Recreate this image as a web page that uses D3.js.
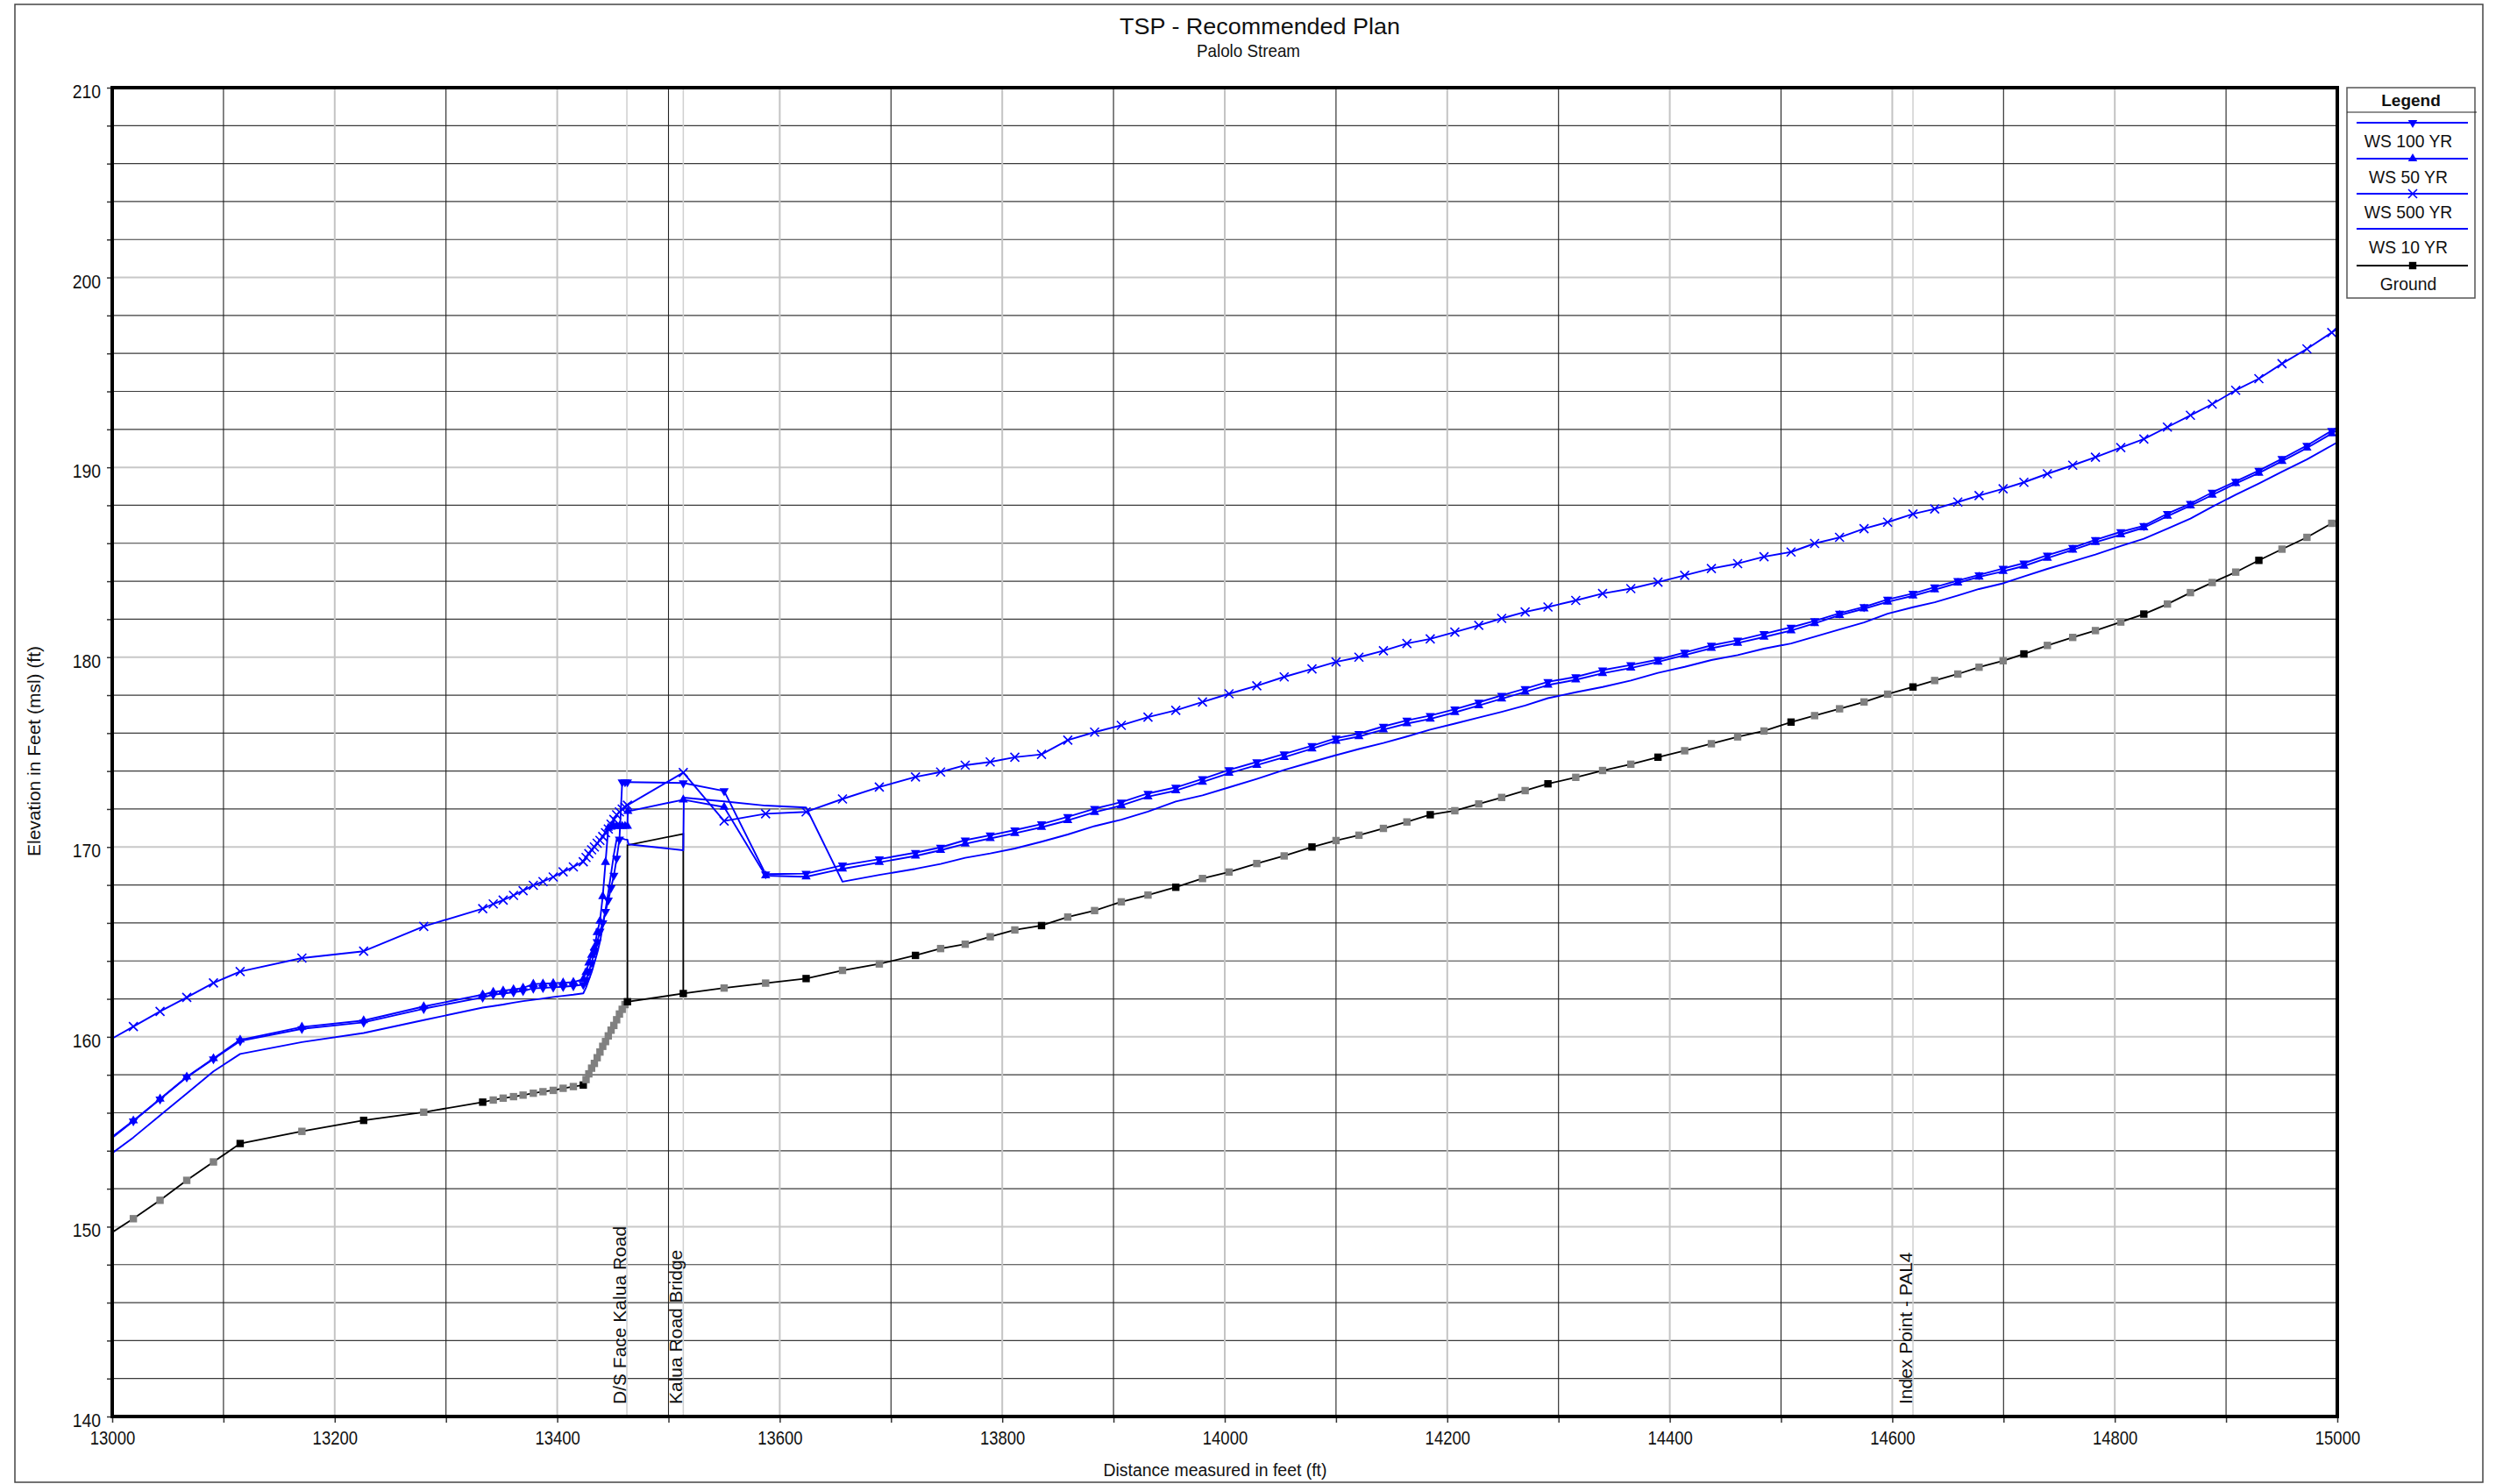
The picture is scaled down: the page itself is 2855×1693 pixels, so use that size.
<!DOCTYPE html>
<html><head><meta charset="utf-8">
<script src="https://cdn.jsdelivr.net/npm/d3@7"></script>
<style>html,body{margin:0;padding:0;background:#fff;} svg{display:block;font-family:Arial,"Liberation Sans",sans-serif;}</style>
</head><body><svg id="c" width="2855" height="1693"></svg>
<script>
// ---------------- DATA ----------------
const stations = [12996,13019,13043,13067,13091,13115,13170.5,13226,13280,13333,13342.5,13351.4,13360.7,13369.3,13378.5,13387.2,13396.4,13405.3,13414.5,13423.4,
13425.9,13428.4,13430.9,13433.4,13435.9,13438.4,13440.9,13443.4,13445.9,13448.4,13450.9,13453.4,13455.9,13458.4,13460.9,
13463.1,13513.3,13550,13587.3,13623.7,13656.4,13689.5,13722,13744.6,13766.7,13789.2,13811.3,13835.3,13858.9,13883,13907,13931,13956,13980,14003.8,14028.8,14053.4,14078.4,14100,14120.6,14142.6,14163.7,14184.7,14206.8,14228.3,14248.9,14270,14290.5,14315.5,14339.6,14365,14389.4,14413.4,14437.4,14461,14484.7,14509,14530.2,14552.6,14574.6,14595.8,14618.6,14638.1,14658.9,14678,14699.6,14718.3,14739.4,14762.2,14782.6,14805.4,14826.1,14847.3,14868,14887.6,14908.7,14929.5,14950.3,14972.7,14995,15004];

const ground = [149.55,150.42,151.39,152.44,153.41,154.38,155.02,155.60,156.03,156.56,156.67,156.77,156.85,156.93,157.03,157.11,157.18,157.29,157.38,157.46,
157.75,158.05,158.35,158.6,158.9,159.2,159.5,159.75,160.05,160.35,160.6,160.9,161.2,161.45,161.7,
161.85,162.28,162.57,162.83,163.07,163.5,163.84,164.29,164.65,164.88,165.27,165.63,165.86,166.31,166.65,167.11,167.47,167.88,168.34,168.68,169.13,169.53,170.0,170.34,170.62,170.98,171.32,171.70,171.91,172.27,172.61,172.97,173.33,173.67,174.03,174.36,174.73,175.07,175.44,175.80,176.11,176.58,176.92,177.28,177.64,178.05,178.43,178.77,179.11,179.47,179.81,180.17,180.62,181.04,181.40,181.85,182.27,182.80,183.40,183.93,184.48,185.10,185.69,186.31,187.05,187.35];

const ws500 = [159.78,160.54,161.34,162.08,162.84,163.44,164.15,164.51,165.82,166.75,167.0,167.2,167.45,167.7,167.98,168.18,168.42,168.69,168.95,169.22,
169.45,169.65,169.85,170.0,170.2,170.35,170.55,170.75,170.95,171.2,171.45,171.7,171.85,172.0,172.1,
172.2,173.92,171.37,171.75,171.85,172.53,173.16,173.69,173.95,174.31,174.48,174.73,174.88,175.63,176.05,176.41,176.84,177.20,177.64,178.07,178.49,178.96,179.38,179.75,180.0,180.34,180.72,180.96,181.32,181.68,182.04,182.38,182.64,182.99,183.35,183.61,183.95,184.31,184.67,184.93,185.29,185.54,185.99,186.31,186.77,187.11,187.54,187.81,188.17,188.51,188.87,189.21,189.66,190.11,190.53,191.04,191.49,192.12,192.74,193.33,194.06,194.67,195.46,196.24,197.1,197.45];

const ws100 = [154.5,155.56,156.71,157.87,158.83,159.78,160.42,160.76,161.48,162.08,162.22,162.28,162.35,162.42,162.55,162.58,162.61,162.64,162.68,162.75,
163.0,163.45,163.9,164.45,165.0,165.55,166.0,166.6,167.2,167.85,168.5,169.4,170.4,173.42,173.42,
173.42,173.37,172.95,168.57,168.60,169.04,169.36,169.70,169.98,170.36,170.62,170.89,171.21,171.59,172.02,172.36,172.82,173.14,173.59,174.06,174.48,174.90,175.33,175.73,175.97,176.35,176.67,176.92,177.26,177.62,177.98,178.34,178.70,178.96,179.32,179.59,179.87,180.25,180.62,180.89,181.23,181.57,181.91,182.31,182.65,183.04,183.35,183.69,184.03,184.33,184.67,184.95,185.37,185.77,186.18,186.60,186.92,187.56,188.09,188.68,189.26,189.83,190.45,191.15,191.93,192.25];

const ws50 = [154.55,155.58,156.73,157.89,158.86,159.84,160.52,160.86,161.6,162.22,162.36,162.43,162.5,162.57,162.78,162.8,162.82,162.85,162.88,163.03,
163.4,163.9,164.3,164.7,165.5,166.1,167.4,169.2,171.0,171.05,171.1,171.1,171.1,171.1,171.1,
171.1,172.49,172.1,168.49,168.43,168.85,169.19,169.53,169.83,170.17,170.45,170.72,171.04,171.40,171.83,172.19,172.65,172.97,173.42,173.89,174.31,174.73,175.18,175.58,175.82,176.18,176.50,176.75,177.09,177.45,177.81,178.17,178.53,178.81,179.15,179.43,179.75,180.11,180.47,180.74,181.06,181.40,181.78,182.21,182.55,182.91,183.23,183.55,183.91,184.23,184.52,184.80,185.22,185.65,186.05,186.45,186.82,187.43,187.98,188.54,189.15,189.70,190.32,191.02,191.78,192.1];

const ws10 = [153.7,154.7,155.86,157.02,158.18,159.1,159.72,160.2,160.88,161.54,161.62,161.7,161.8,161.88,161.95,162.02,162.1,162.16,162.22,162.29,
162.6,163.0,163.4,163.9,164.4,165.0,165.8,166.7,167.6,168.6,169.6,170.4,170.45,170.45,170.4,
170.38,169.83,172.4,172.18,172.08,168.17,168.53,168.85,169.11,169.43,169.66,169.92,170.28,170.66,171.10,171.44,171.87,172.40,172.72,173.14,173.59,174.06,174.48,174.84,175.16,175.48,175.82,176.18,176.50,176.82,177.12,177.45,177.84,178.15,178.43,178.77,179.17,179.49,179.85,180.11,180.45,180.72,181.08,181.46,181.83,182.29,182.63,182.89,183.25,183.59,183.89,184.25,184.65,185.05,185.41,185.86,186.24,186.77,187.30,187.92,188.56,189.15,189.77,190.42,191.15,191.45];

// extra points inside the bridge  [station, elevation]
const ws10Bridge = [[13464, 170.14], [13513.8, 172.6]];
const ws50Bridge = [[13463.5, 171.88]];
const bridgeDeck = [[13463.1,161.85],[13463.1,170.1],[13513.3,170.69],[13513.3,162.28]];

// surveyed cross sections (black squares); others are interpolated (grey)
const surveyed = [13115,13226,13333,13423.4,13463.1,13513.3,13623.7,13722,13835.3,13956,14078.4,14184.7,14290.5,14389.4,14509,14618.6,14718.3,14826.1,14929.5];

const stationLabels = [
  {st: 13462.6, text: "D/S Face Kalua  Road"},
  {st: 13513.3, text: "Kalua Road Bridge"},
  {st: 14618.6, text: "Index Point - PAL4"}
];
const xTickValues = d3.range(13000, 15001, 100);
const yTickValues = d3.range(140, 211, 2);
const legendNames = ["WS  100 YR", "WS  50 YR", "WS  500 YR", "WS  10 YR", "Ground"];

// ---------------- CHART ----------------
const W = 2855, H = 1693;
const M = {left: 128, right: 2666, top: 100, bottom: 1616};
const BLUE = "#0000ff";
const svg = d3.select("#c");
svg.append("rect").attr("width", W).attr("height", H).attr("fill", "#fff");
svg.append("rect").attr("x", 17).attr("y", 5).attr("width", 2832 - 17).attr("height", 1691 - 5)
  .attr("fill", "none").attr("stroke", "#444").attr("stroke-width", 1.5);

const x = d3.scaleLinear().domain([13000, 15000]).range([M.left, M.right]);
const y = d3.scaleLinear().domain([140, 210]).range([M.bottom, M.top]);

function condense(sel, f) {
  sel.each(function () {
    const n = this.getComputedTextLength();
    if (n > 0) { this.setAttribute("textLength", n * f); this.setAttribute("lengthAdjust", "spacingAndGlyphs"); }
  });
}

svg.append("clipPath").attr("id", "clip").append("rect")
  .attr("x", M.left).attr("y", M.top).attr("width", M.right - M.left).attr("height", M.bottom - M.top);

// grid
const grid = svg.append("g");
grid.selectAll("line.h").data(yTickValues.filter(v => v > 140 && v < 210)).join("line")
  .attr("x1", M.left).attr("x2", M.right).attr("y1", d => y(d)).attr("y2", d => y(d))
  .attr("stroke", d => d % 10 === 0 ? "#c8c8c8" : "#3a3a3a").attr("stroke-width", d => d % 10 === 0 ? 2 : 1.2);
grid.selectAll("line.v").data(xTickValues.filter(v => v > 13000 && v < 15000)).join("line")
  .attr("y1", M.top).attr("y2", M.bottom).attr("x1", d => x(d)).attr("x2", d => x(d))
  .attr("stroke", d => d % 200 === 0 ? "#c4c4c4" : "#222").attr("stroke-width", d => d % 200 === 0 ? 2 : 1.1);
grid.selectAll("line.s").data(stationLabels).join("line")
  .attr("y1", M.top).attr("y2", M.bottom).attr("x1", d => x(d.st)).attr("x2", d => x(d.st))
  .attr("stroke", "#cfcfcf").attr("stroke-width", 1.5);

// axes
const yAxis = svg.append("g").attr("transform", `translate(${M.left},0)`)
  .call(d3.axisLeft(y).tickValues(yTickValues).tickSize(6).tickPadding(7).tickFormat(d => d % 10 === 0 ? d : ""));
yAxis.select(".domain").remove();
yAxis.selectAll("line").attr("stroke", "#333").attr("stroke-width", 1.5);
yAxis.selectAll("text").attr("font-size", 22).attr("font-family", "Arial,Liberation Sans,sans-serif").attr("dy", "0.52em").attr("fill", "#111");
condense(yAxis.selectAll("text"), 0.88);

const xAxis = svg.append("g").attr("transform", `translate(0,${M.bottom})`)
  .call(d3.axisBottom(x).tickValues(xTickValues).tickSize(7).tickPadding(9).tickFormat(d => d % 200 === 0 ? d : ""));
xAxis.select(".domain").remove();
xAxis.selectAll("line").attr("stroke", "#333").attr("stroke-width", 1.5);
xAxis.selectAll("text").attr("font-size", 22).attr("font-family", "Arial,Liberation Sans,sans-serif").attr("fill", "#111");
condense(xAxis.selectAll("text"), 0.84);

// station labels
const lab = svg.append("g");
stationLabels.forEach(d => {
  lab.append("text").attr("transform", `translate(${x(d.st) - 1},1602) rotate(-90)`)
    .attr("font-size", 21).attr("fill", "#111").text(d.text);
});

// data
const plot = svg.append("g").attr("clip-path", "url(#clip)");
const pairs = (vals, extra) => {
  const p = stations.map((s, i) => [s, vals[i]]);
  return extra ? p.concat(extra).sort((a, b) => a[0] - b[0]) : p;
};
const line = d3.line().x(d => x(d[0])).y(d => y(d[1]));

const gData = pairs(ground);
plot.append("path").attr("d", line(gData)).attr("fill", "none").attr("stroke", "#000").attr("stroke-width", 1.8);
plot.append("path").attr("d", line(bridgeDeck)).attr("fill", "none").attr("stroke", "#000").attr("stroke-width", 1.8);

const series = [
  {name: "ws10", data: pairs(ws10, ws10Bridge), marker: null},
  {name: "ws50", data: pairs(ws50, ws50Bridge), marker: "up"},
  {name: "ws100", data: pairs(ws100), marker: "down"},
  {name: "ws500", data: pairs(ws500), marker: "x"}
];
series.forEach(s => {
  plot.append("path").attr("d", line(s.data)).attr("fill", "none").attr("stroke", BLUE).attr("stroke-width", 1.9).attr("stroke-linejoin", "round");
});

const tri = d3.symbol(d3.symbolTriangle).size(48)();
function drawMarker(g, type, cx, cy, fill) {
  if (type === "up") g.append("path").attr("d", tri).attr("transform", `translate(${cx},${cy})`).attr("fill", BLUE);
  else if (type === "down") g.append("path").attr("d", tri).attr("transform", `translate(${cx},${cy}) rotate(180)`).attr("fill", BLUE);
  else if (type === "x") g.append("path").attr("d", "M-5,-5L5,5M-5,5L5,-5").attr("transform", `translate(${cx},${cy})`).attr("stroke", BLUE).attr("stroke-width", 1.6).attr("fill", "none");
  else if (type === "sq") g.append("rect").attr("x", cx - 4.2).attr("y", cy - 4.2).attr("width", 8.4).attr("height", 8.4).attr("fill", fill);
}
series.forEach(s => {
  if (!s.marker) return;
  s.data.forEach(d => drawMarker(plot, s.marker, x(d[0]), y(d[1])));
});
gData.forEach(d => drawMarker(plot, "sq", x(d[0]), y(d[1]), surveyed.includes(d[0]) ? "#000" : "#808080"));

// frame
svg.append("rect").attr("x", M.left).attr("y", M.top).attr("width", M.right - M.left).attr("height", M.bottom - M.top)
  .attr("fill", "none").attr("stroke", "#000").attr("stroke-width", 4);

// titles
svg.append("text").attr("x", 1437).attr("y", 39).attr("text-anchor", "middle").attr("font-size", 26).attr("fill", "#111")
  .text("TSP - Recommended Plan").attr("textLength", 320).attr("lengthAdjust", "spacingAndGlyphs");
svg.append("text").attr("x", 1424).attr("y", 65).attr("text-anchor", "middle").attr("font-size", 21).attr("fill", "#111")
  .text("Palolo Stream").attr("textLength", 118).attr("lengthAdjust", "spacingAndGlyphs");
svg.append("text").attr("transform", "translate(46,857) rotate(-90)").attr("text-anchor", "middle").attr("font-size", 20).attr("fill", "#111")
  .text("Elevation in Feet (msl) (ft)").attr("textLength", 240).attr("lengthAdjust", "spacingAndGlyphs");
svg.append("text").attr("x", 1386).attr("y", 1684).attr("text-anchor", "middle").attr("font-size", 20).attr("fill", "#111")
  .text("Distance measured in feet (ft)").attr("textLength", 255).attr("lengthAdjust", "spacingAndGlyphs");

// legend
const lg = svg.append("g");
lg.append("rect").attr("x", 2677).attr("y", 100).attr("width", 146).attr("height", 240).attr("fill", "#fff").attr("stroke", "#555").attr("stroke-width", 1.5);
lg.append("line").attr("x1", 2677).attr("x2", 2825).attr("y1", 128).attr("y2", 128).attr("stroke", "#222").attr("stroke-width", 1.2);
lg.append("text").attr("x", 2750).attr("y", 121).attr("text-anchor", "middle").attr("font-size", 19).attr("font-weight", "bold").attr("fill", "#111").text("Legend");
const legY = [140, 181, 221, 261, 303];
const legMk = ["down", "up", "x", null, "sq"];
legendNames.forEach((n, i) => {
  const col = i === 4 ? "#000" : BLUE;
  lg.append("line").attr("x1", 2688).attr("x2", 2815).attr("y1", legY[i]).attr("y2", legY[i]).attr("stroke", col).attr("stroke-width", 1.8);
  if (legMk[i]) drawMarker(lg, legMk[i], 2752, legY[i], "#000");
  const t = lg.append("text").attr("x", 2747).attr("y", legY[i] + 28).attr("text-anchor", "middle").attr("font-size", 21).attr("fill", "#111").text(n);
  condense(t, 0.92);
});
</script></body></html>
